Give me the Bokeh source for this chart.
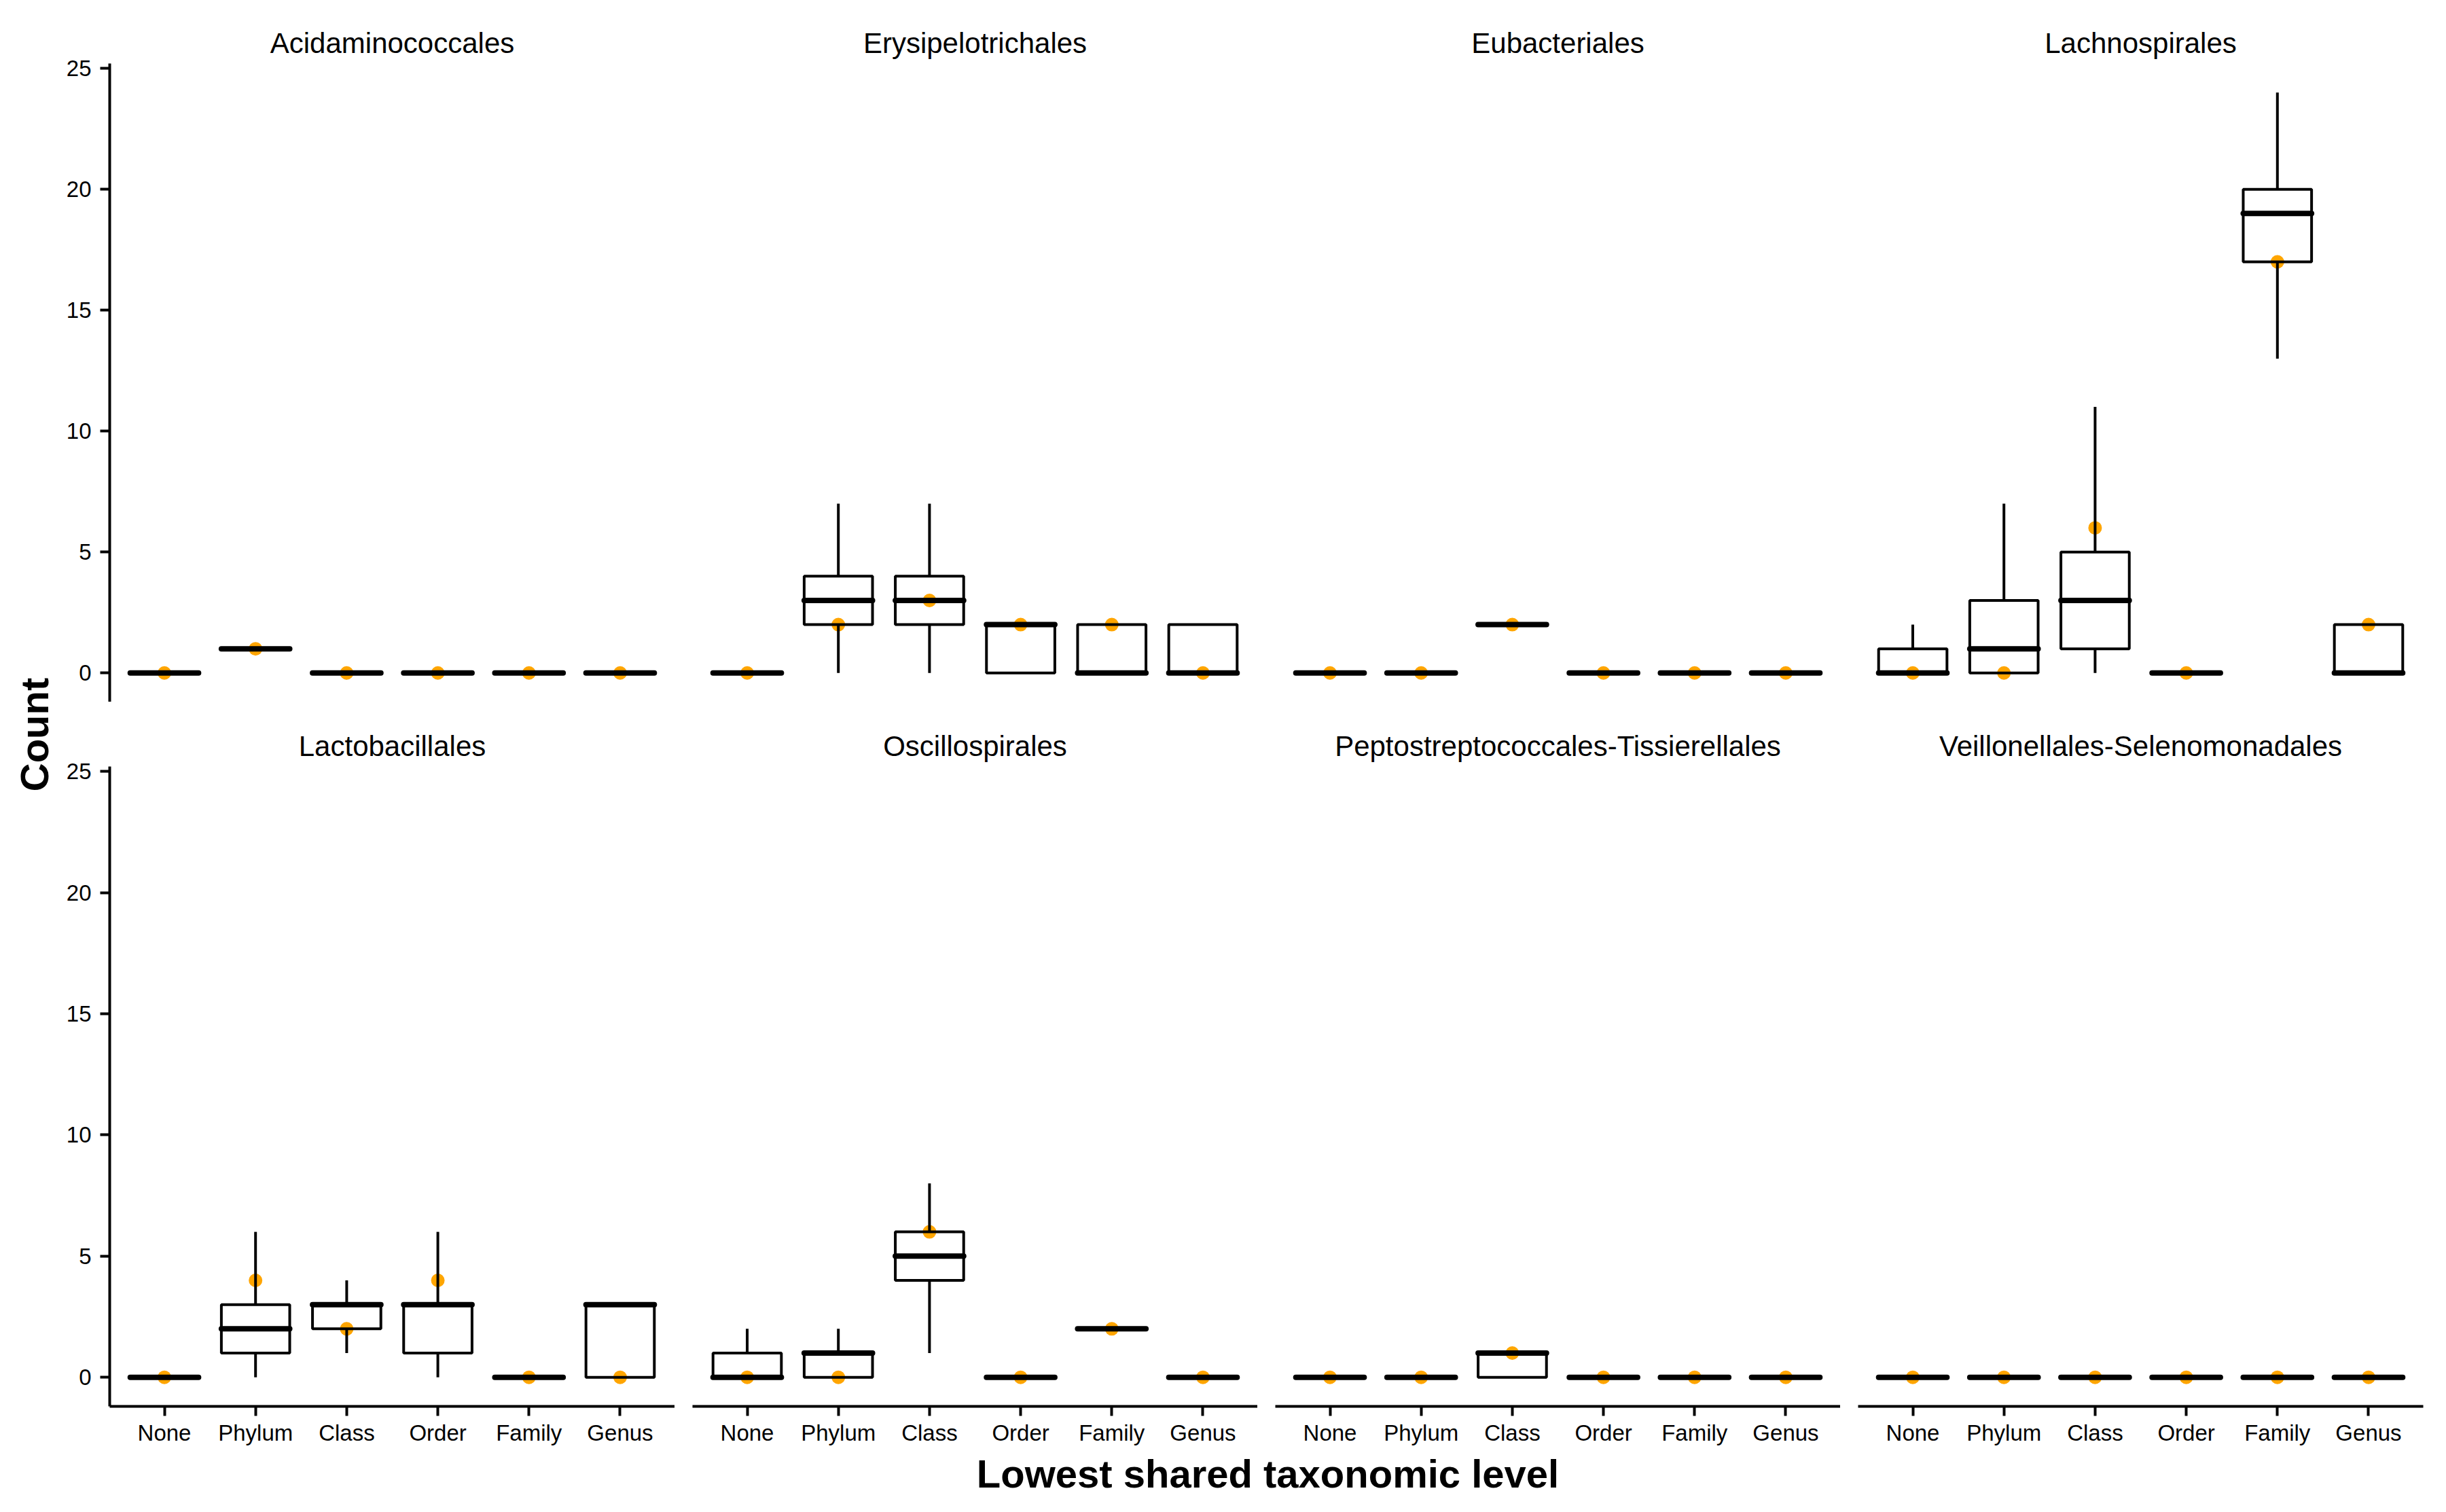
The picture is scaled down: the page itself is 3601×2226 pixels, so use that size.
from math import pi

from bokeh.core.properties import value
from bokeh.embed import file_html
from bokeh.layouts import column, row
from bokeh.models import ColumnDataSource, FactorRange, FixedTicker, Range1d
from bokeh.plotting import figure
from bokeh.resources import INLINE
from bokeh.transform import dodge

ORDERS = ["Acidaminococcales", "Erysipelotrichales", "Eubacteriales", "Lachnospirales",
          "Lactobacillales", "Oscillospirales", "Peptostreptococcales-Tissierellales",
          "Veillonellales-Selenomonadales"]
LEVELS = ["None", "Phylum", "Class", "Order", "Family", "Genus"]
Y_TICKS = [0, 5, 10, 15, 20, 25]

# boxplot statistics, one row per order, one column per level
WHISKER_LOW = [
    [0, 1, 0, 0, 0, 0],
    [0, 0, 0, 0, 0, 0],
    [0, 0, 2, 0, 0, 0],
    [0, 0, 0, 0, 13, 0],
    [0, 0, 1, 0, 0, 0],
    [0, 0, 1, 0, 2, 0],
    [0, 0, 0, 0, 0, 0],
    [0, 0, 0, 0, 0, 0],
]
Q1 = [
    [0, 1, 0, 0, 0, 0],
    [0, 2, 2, 0, 0, 0],
    [0, 0, 2, 0, 0, 0],
    [0, 0, 1, 0, 17, 0],
    [0, 1, 2, 1, 0, 0],
    [0, 0, 4, 0, 2, 0],
    [0, 0, 0, 0, 0, 0],
    [0, 0, 0, 0, 0, 0],
]
MEDIAN = [
    [0, 1, 0, 0, 0, 0],
    [0, 3, 3, 2, 0, 0],
    [0, 0, 2, 0, 0, 0],
    [0, 1, 3, 0, 19, 0],
    [0, 2, 3, 3, 0, 3],
    [0, 1, 5, 0, 2, 0],
    [0, 0, 1, 0, 0, 0],
    [0, 0, 0, 0, 0, 0],
]
Q3 = [
    [0, 1, 0, 0, 0, 0],
    [0, 4, 4, 2, 2, 2],
    [0, 0, 2, 0, 0, 0],
    [1, 3, 5, 0, 20, 2],
    [0, 3, 3, 3, 0, 3],
    [1, 1, 6, 0, 2, 0],
    [0, 0, 1, 0, 0, 0],
    [0, 0, 0, 0, 0, 0],
]
WHISKER_HIGH = [
    [0, 1, 0, 0, 0, 0],
    [0, 7, 7, 2, 2, 2],
    [0, 0, 2, 0, 0, 0],
    [2, 7, 11, 0, 24, 2],
    [0, 6, 4, 6, 0, 3],
    [2, 2, 8, 0, 2, 0],
    [0, 0, 1, 0, 0, 0],
    [0, 0, 0, 0, 0, 0],
]
# orange reference point per level
OBSERVED = [
    [0, 1, 0, 0, 0, 0],
    [0, 2, 3, 2, 2, 0],
    [0, 0, 2, 0, 0, 0],
    [0, 0, 6, 0, 17, 2],
    [0, 4, 2, 4, 0, 0],
    [0, 0, 6, 0, 2, 0],
    [0, 0, 1, 0, 0, 0],
    [0, 0, 0, 0, 0, 0],
]

FONT = "Liberation Sans"
PAGE_W, PAGE_H = 3601, 2226
LEFT_W = 90        # strip holding the y title
FRAME_W = 832
BOX_W = 0.75
BOTTOM_AXIS_H = 60


def style_axis(ax, standoff):
    ax.axis_line_color = "black"
    ax.axis_line_width = 4
    ax.major_tick_line_color = "black"
    ax.major_tick_line_width = 4
    ax.major_tick_out = 14
    ax.major_tick_in = 0
    ax.minor_tick_out = 0
    ax.minor_tick_in = 0
    ax.major_label_text_font = FONT
    ax.major_label_text_font_size = "33px"
    ax.major_label_text_color = "black"
    ax.major_label_standoff = standoff


def make_panel(i):
    top_row = i < 4
    col = i % 4
    p = figure(x_range=FactorRange(factors=LEVELS, range_padding=0.1, range_padding_units="absolute"),
               y_range=Range1d(-1.2, 25.2),
               frame_width=FRAME_W, frame_height=940 if top_row else 942,
               min_border_left=161 - LEFT_W if col == 0 else 26,
               min_border_right=34 if col == 3 else 0,
               min_border_top=93 if top_row else 95,
               min_border_bottom=0 if top_row else BOTTOM_AXIS_H,
               x_axis_location=None if top_row else "below",
               y_axis_location="left" if col == 0 else None,
               toolbar_location=None, tools="", output_backend="svg",
               outline_line_color=None, title=ORDERS[i])
    p.xgrid.visible = False
    p.ygrid.visible = False
    p.title.align = "center"
    p.title.text_font = FONT
    p.title.text_font_size = "42px"
    p.title.text_font_style = "normal"
    p.title.text_color = "black"
    p.title.standoff = 14
    if col == 0:
        p.yaxis.ticker = FixedTicker(ticks=Y_TICKS)
        style_axis(p.yaxis[0], 13)
    if not top_row:
        style_axis(p.xaxis[0], 6)

    src = ColumnDataSource(data=dict(level=LEVELS, lo=WHISKER_LOW[i], q1=Q1[i], med=MEDIAN[i],
                                     q3=Q3[i], hi=WHISKER_HIGH[i], obs=OBSERVED[i]))
    p.scatter(x="level", y="obs", source=src, size=20, fill_color="#FFA500", line_color=None)
    p.segment(x0="level", y0="q3", x1="level", y1="hi", source=src, line_color="black", line_width=4)
    p.segment(x0="level", y0="lo", x1="level", y1="q1", source=src, line_color="black", line_width=4)
    p.vbar(x="level", bottom="q1", top="q3", width=BOX_W, source=src,
           fill_color=None, line_color="black", line_width=4)
    p.segment(x0=dodge("level", -BOX_W / 2, range=p.x_range), y0="med",
              x1=dodge("level", BOX_W / 2, range=p.x_range), y1="med",
              source=src, line_color="black", line_width=8, line_cap="round")
    return p


panels = [make_panel(i) for i in range(8)]

# y title
count_fig = figure(frame_width=LEFT_W, frame_height=PAGE_H, x_range=Range1d(0, LEFT_W),
                   y_range=Range1d(0, PAGE_H), min_border=0, x_axis_location=None,
                   y_axis_location=None, outline_line_color=None,
                   toolbar_location=None, tools="", output_backend="svg")
count_fig.grid.visible = False
count_fig.text(x=[50], y=[PAGE_H - 1081], text=["Count"], angle=pi / 2, text_align="center",
               text_baseline="middle", text_font=value(FONT), text_font_style="bold",
               text_font_size="58px", text_color="black")

# x title
xt_w = PAGE_W - LEFT_W
xt_h = PAGE_H - (93 + 940 + 95 + 942 + BOTTOM_AXIS_H)
xt_fig = figure(frame_width=xt_w, frame_height=xt_h, x_range=Range1d(0, xt_w), y_range=Range1d(0, xt_h),
                min_border=0, x_axis_location=None, y_axis_location=None, outline_line_color=None,
                toolbar_location=None, tools="", output_backend="svg")
xt_fig.grid.visible = False
xt_fig.text(x=[1866 - LEFT_W], y=[xt_h - 39], text=["Lowest shared taxonomic level"], text_align="center",
            text_baseline="middle", text_font=value(FONT), text_font_style="bold",
            text_font_size="58px", text_color="black")

layout = row(count_fig, column(row(*panels[:4]), row(*panels[4:]), xt_fig))

open("out.html", "w").write(file_html(layout, INLINE))
